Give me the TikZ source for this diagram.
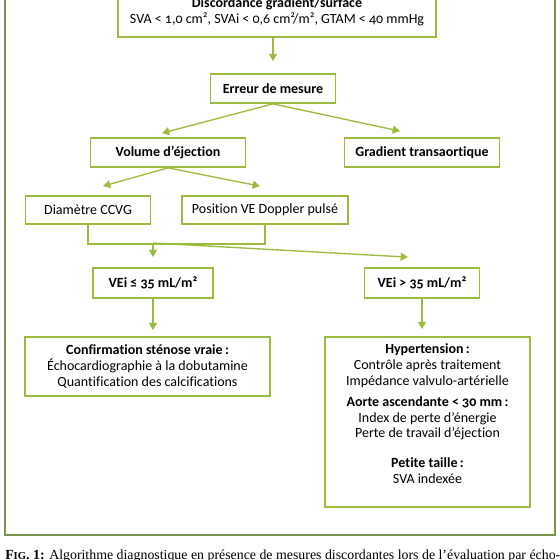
\documentclass[tikz,border=0pt]{standalone}
\usepackage{fontspec}
\setmainfont{Carlito}[Numbers=OldStyle, Ligatures=NoCommon]
\newfontfamily\captionfont{Liberation Serif}
\usetikzlibrary{arrows.meta}
\definecolor{boxgreen}{RGB}{155,187,60}
\definecolor{framegreen}{RGB}{122,150,78}

\begin{document}
\begin{tikzpicture}[
    x=0.75pt, y=-0.75pt,
    box/.style={draw=boxgreen, line width=1.3pt, fill=white, align=center,
      font=\fontsize{10.5}{11.7}\selectfont, inner sep=3pt},
    arr/.style={draw=boxgreen, line width=1pt, -{Triangle[width=6pt,length=5.5pt]}},
    link/.style={draw=boxgreen, line width=1pt},
  ]
  \useasboundingbox (0,0) rectangle (560,560);
  % outer frame
  \draw[framegreen, line width=1.3pt] (5,-40) rectangle (555,535);

  % boxes
  \node[box, minimum width=238.5pt, minimum height=38.25pt] (discord) at (277,11.5)
    {\textbf{Discordance gradient/surface}\\SVA < 1,0 cm², SVAi < 0,6 cm²/m², GTAM < 40 mmHg};
  \node[box, minimum width=93.75pt, minimum height=21.75pt] (erreur) at (273,88.5)
    {\textbf{Erreur de mesure}};
  \node[box, minimum width=116.25pt, minimum height=21.75pt] (volume) at (168,152.5)
    {\textbf{Volume d’éjection}};
  \node[box, minimum width=116.25pt, minimum height=21.75pt] (gradient) at (422,152.5)
    {\textbf{Gradient transaortique}};
  \node[box, minimum width=93.75pt, minimum height=21pt] (diametre) at (88,210)
    {Diamètre CCVG};
  \node[box, minimum width=124.5pt, minimum height=21pt] (position) at (265,210)
    {Position VE Doppler pulsé};
  \node[box, minimum width=90pt, minimum height=22.5pt] (veile) at (153,283)
    {\textbf{VEi ≤ 35 mL/m²}};
  \node[box, minimum width=86.25pt, minimum height=22.5pt] (veigt) at (422,283)
    {\textbf{VEi > 35 mL/m²}};
  \node[box, minimum width=183.75pt, minimum height=44.25pt] (confirm) at (147.5,366.5)
    {\textbf{Confirmation sténose vraie\,:}\\Échocardiographie à la dobutamine\\Quantification des calcifications};
  \node[box, minimum width=153.75pt, minimum height=127.5pt] (causes) at (427.5,422)
    {\textbf{Hypertension\,:}\\Contrôle après traitement\\Impédance valvulo-artérielle\\[4.5pt]
     \textbf{Aorte ascendante < 30 mm\,:}\\Index de perte d’énergie\\Perte de travail d’éjection\\[10.5pt]
     \textbf{Petite taille\,:}\\SVA indexée\\[1pt]\mbox{}};

  % connectors
  \draw[arr, shorten >=9pt] (discord.south -| erreur.north) -- (erreur.north);
  \draw[arr] (erreur.south) -- ([xshift=-4.5pt,yshift=3pt]volume.north);
  \draw[arr] (erreur.south) -- ([xshift=-16.5pt,yshift=4.5pt]gradient.north);
  \draw[arr] (volume.south) -- ([xshift=11.25pt,yshift=6.75pt]diametre.north);
  \draw[arr] (volume.south) -- ([xshift=-3.75pt,yshift=6.75pt]position.north);
  \draw[link] (diametre.south) -- ++(0,-14.25pt) -| (position.south);
  \coordinate (join) at (153,243);
  \draw[arr] (join) -- ([yshift=7.5pt]veile.north);
  \draw[arr] (join) -- ([xshift=-10.5pt,yshift=7.5pt]veigt.north);
  \draw[arr, shorten >=4.5pt] (veile.south) -- (veile.south |- confirm.north);
  \draw[arr, shorten >=5.25pt] (veigt.south) -- (veigt.south |- causes.north);

  % caption
  \node[anchor=base west, inner sep=0pt, font=\captionfont\fontsize{10.4}{12}\selectfont] (caption) at (5,559)
    {\textbf{F{\footnotesize IG}. 1:} Algorithme diagnostique en présence de mesures discordantes lors de l’évaluation par écho-};
\end{tikzpicture}
\end{document}
